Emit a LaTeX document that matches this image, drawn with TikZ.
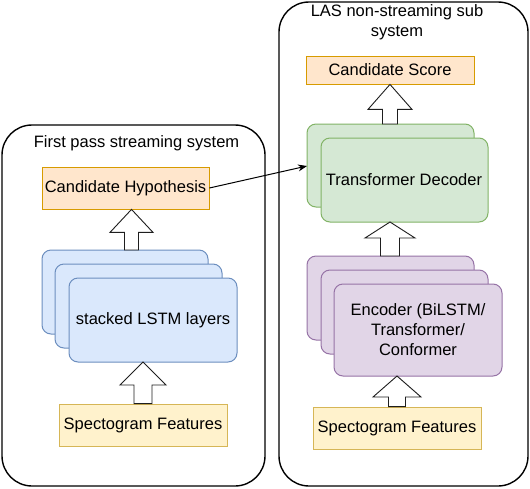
\documentclass[tikz,border=0pt]{standalone}
\usepackage{fontspec}
\setmainfont{Liberation Sans}
\usetikzlibrary{calc,arrows.meta}
\tikzset{
  container/.style={draw=black, line width=1.4pt, rounded corners=30pt, fill=white},
  plain/.style={draw, line width=0.8pt, minimum height=42pt, align=center, inner sep=0pt},
  orangebox/.style={plain, fill={rgb,255:red,255;green,230;blue,204}, draw={rgb,255:red,215;green,155;blue,0}},
  yellowbox/.style={plain, fill={rgb,255:red,255;green,242;blue,204}, draw={rgb,255:red,214;green,182;blue,86}},
  bluebox/.style={draw={rgb,255:red,108;green,142;blue,191}, fill={rgb,255:red,218;green,232;blue,252}, line width=1pt, rounded corners=9pt},
  greenbox/.style={draw={rgb,255:red,130;green,179;blue,102}, fill={rgb,255:red,213;green,232;blue,212}, line width=1pt, rounded corners=9pt},
  purplebox/.style={draw={rgb,255:red,150;green,115;blue,166}, fill={rgb,255:red,225;green,213;blue,231}, line width=1pt, rounded corners=9pt},
  blk/.style={draw={rgb,255:red,30;green,30;blue,30}, fill=white, line width=0.9pt, line join=miter},
  label/.style={font=\fontsize{16.5}{20}\selectfont, inner sep=0pt, align=center},
  conn/.style={draw=black, line width=1pt, -{Stealth[length=9pt,width=7pt]}}
}
\newcommand\blockarrow[6]{%
  \draw[blk] let \p1=(#2), \p2=(#3) in
    ({(#1-#4)*1pt},\y1) -- ({(#1-#4)*1pt},{\y2-#6*1pt}) -- ({(#1-#5)*1pt},{\y2-#6*1pt})
    -- ({#1*1pt},\y2) -- ({(#1+#5)*1pt},{\y2-#6*1pt}) -- ({(#1+#4)*1pt},{\y2-#6*1pt})
    -- ({(#1+#4)*1pt},\y1) -- cycle;}
\begin{document}
\begin{tikzpicture}[x=1pt,y=-1pt]
\useasboundingbox (0,0) rectangle (530,488);
% containers
\draw[container] (2,125) rectangle (265,486);
\draw[container] (279,2) rectangle (528,486);
\node[label] (t1) at (136.5,143) {First pass streaming system};
\node[label] (t2) at (397,22) {LAS non-streaming sub\\system};
% left column
\node[orangebox, minimum width=167pt, minimum height=42pt] (ch) at (125.5,188) {};
\node[label] (chl) at (ch.center) {Candidate Hypothesis};
\draw[bluebox] (42,250) rectangle (208,334);
\draw[bluebox] (55,264) rectangle (222,348);
\draw[bluebox] (69,278) rectangle (237,362);
\coordinate (lstm1) at (125,250);
\coordinate (lstm3) at (153,362);
\node[label] (lstml) at (153,320) {stacked LSTM layers};
\node[yellowbox, minimum width=168pt, minimum height=42pt] (specL) at (143,425) {};
\node[label] (specLl) at (specL.center) {Spectogram Features};
% right column
\node[orangebox, minimum width=168pt, minimum height=28pt] (score) at (390,70) {};
\node[label] (scorel) at (score.center) {Candidate Score};
\draw[greenbox] (307,124) rectangle (474,207);
\draw[greenbox] (321,138) rectangle (488,222);
\coordinate (dec1) at (390,124);
\coordinate (dec1w) at (307,166);
\coordinate (dec2) at (404,222);
\node[label] (decl) at (404,180) {Transformer Decoder};
\draw[purplebox] (307,256) rectangle (474,340);
\draw[purplebox] (321,270) rectangle (488,354);
\draw[purplebox] (334,284) rectangle (502,376);
\coordinate (enc1) at (390,256);
\coordinate (enc3) at (418,376);
\node[label] (encl) at (418,330) {Encoder (BiLSTM/\\Transformer/\\Conformer};
\node[yellowbox, minimum width=168pt, minimum height=42pt] (specR) at (397,428) {};
\node[label] (specRl) at (specR.center) {Spectogram Features};
% block arrows
\blockarrow{131.5}{lstm1}{ch.south}{7}{21.5}{23}
\blockarrow{143}{specL.north}{lstm3}{9}{23}{23}
\blockarrow{390}{dec1}{score.south}{7.5}{22}{25}
\blockarrow{390}{enc1}{dec2}{9.5}{25}{16}
\blockarrow{397}{specR.north}{enc3}{8.5}{24}{21}
% connector
\draw[conn] (ch.east) -- (dec1w);
\end{tikzpicture}
\end{document}
